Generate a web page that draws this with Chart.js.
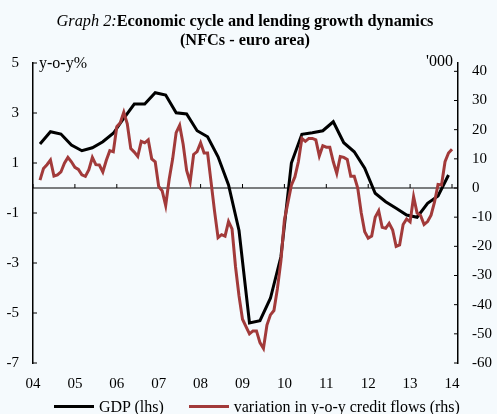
<!DOCTYPE html>
<html>
<head>
<meta charset="utf-8">
<script src="https://cdn.jsdelivr.net/npm/chart.js@4"></script>
<style>
  html, body { margin: 0; padding: 0; background: #f5fafd; }
  #wrap { position: relative; width: 497px; height: 414px; font-family: 'Liberation Serif', 'Times New Roman', serif; color: #000; }
  #chart { position: absolute; left: 0; top: 0; }
  .title { position: absolute; left: 0; top: 11px; width: 490px; text-align: center; font-size: 16.3px; line-height: 19px; font-weight: bold; }
  .title i { font-weight: normal; }
  .legend { position: absolute; left: 54px; top: 397px; display: flex; align-items: center; font-size: 16px; line-height: 19px; white-space: nowrap; }
  .legend .swatch { display: inline-block; width: 40px; height: 3px; margin-right: 5px; }
  .legend .item { display: flex; align-items: center; margin-right: 25px; }
</style>
</head>
<body>
<div id="wrap">
  <canvas id="chart" width="497" height="414"></canvas>
  <div class="title"><i>Graph 2:</i>Economic cycle and lending growth dynamics<br>(NFCs - euro area)</div>
  <div class="legend">
    <span class="item"><span class="swatch" style="background:#000"></span>GDP (lhs)</span>
    <span class="item"><span class="swatch" style="background:#a23a3a"></span>variation in y-o-y credit flows (rhs)</span>
  </div>
</div>
<script>
// x axis: years 2004-2014, data positioned by month (Jan 2004 = month 0)
const yearTicks = [2004, 2005, 2006, 2007, 2008, 2009, 2010, 2011, 2012, 2013, 2014];
const leftTicks = [-7, -5, -3, -1, 1, 3, 5];
const rightTicks = [-60, -50, -40, -30, -20, -10, 0, 10, 20, 30, 40];

// GDP y-o-y %, quarterly, Q1 2004 - Q4 2013 (plotted at quarter's last month)
const gdpStartMonth = 2;
const gdp = [
  1.76, 2.25, 2.16, 1.72, 1.49, 1.61, 1.85, 2.19, 2.79, 3.36,
  3.36, 3.81, 3.72, 3.01, 2.96, 2.29, 2.05, 1.25, 0.12, -1.7,
  -5.4, -5.31, -4.41, -2.75, 1.0, 2.15, 2.21, 2.29, 2.65, 1.81,
  1.45, 0.79, -0.21, -0.55, -0.81, -1.08, -1.17, -0.61, -0.32, 0.52
];

// variation in y-o-y credit flows ('000), monthly, Mar 2004 - Jan 2014
const creditStartMonth = 2;
const credit = [
  2.7, 6.7, 8.0, 9.6, 4.1, 4.5, 5.5, 8.5, 10.5, 9.0,
  7.1, 6.4, 4.5, 4.0, 6.3, 10.5, 8.0, 7.9, 5.5, 9.5,
  12.8, 12.4, 21, 22.4, 26, 22, 13.5, 12.3, 10.8, 16,
  15.5, 16.5, 10, 9, 0.5, -1.0, -6.0, 3, 10, 19,
  21.5, 15, 6, 2, 11.5, 12.5, 15.5, 12, 12, 2,
  -8, -17, -16, -16.5, -11.5, -14, -27, -37, -45, -47.5,
  -50, -49, -49, -53, -55, -47, -43.5, -42, -34.5, -25,
  -11, -5, 1, 3.8, 9, 17, 16, 17, 17, 16.5,
  11, 14.5, 14, 14, 9, 5, 10.8, 10.5, 9.8, 4,
  4, 0, -8.5, -15, -17.2, -16.5, -10, -7.8, -13.5, -13.8,
  -12.1, -14.4, -20, -19.5, -12.5, -10.6, -11.6, -3, -8.6, -9.4,
  -12.5, -11.5, -9.3, -4.8, 1.2, 1, 9, 12, 13.3
];

const monthToYear = (m) => 2004 + m / 12;
const gdpPoints = gdp.map((v, i) => ({ x: monthToYear(gdpStartMonth + 3 * i), y: v }));
const creditPoints = credit.map((v, i) => ({ x: monthToYear(creditStartMonth + i), y: v }));

const FONT = "'Liberation Serif', 'Times New Roman', serif";
Chart.defaults.color = '#000';
Chart.defaults.font.family = FONT;
Chart.defaults.font.size = 15;

// zero line, inward tick marks and unit labels
const axisExtras = {
  id: 'axisExtras',
  beforeDatasetsDraw(chart) {
    const { ctx, chartArea: a, scales } = chart;
    const yl = scales.yLeft, yr = scales.yRight, x = scales.x;
    const y0 = yl.getPixelForValue(0);
    ctx.save();
    ctx.strokeStyle = '#000';
    ctx.lineWidth = 1;
    ctx.beginPath();
    ctx.moveTo(a.left, y0);
    ctx.lineTo(a.right, y0);
    yearTicks.forEach(t => {
      const px = x.getPixelForValue(t);
      ctx.moveTo(px, y0);
      ctx.lineTo(px, y0 - 4);
    });
    leftTicks.forEach(t => {
      const py = yl.getPixelForValue(t);
      ctx.moveTo(a.left, py);
      ctx.lineTo(a.left + 4, py);
    });
    rightTicks.forEach(t => {
      const py = yr.getPixelForValue(t);
      ctx.moveTo(a.right, py);
      ctx.lineTo(a.right - 4, py);
    });
    ctx.stroke();

    ctx.fillStyle = '#000';
    ctx.font = '16px ' + FONT;
    ctx.textBaseline = 'middle';
    ctx.textAlign = 'left';
    ctx.fillText('y-o-y%', a.left + 6, a.top + 1);
    ctx.textAlign = 'right';
    ctx.fillText("'000", a.right - 5, a.top - 1);
    ctx.restore();
  }
};

new Chart(document.getElementById('chart').getContext('2d'), {
  type: 'line',
  data: {
    datasets: [
      {
        label: 'GDP (lhs)',
        data: gdpPoints,
        yAxisID: 'yLeft',
        borderColor: '#000',
        backgroundColor: '#000',
        borderWidth: 3,
        pointRadius: 0,
        tension: 0,
        order: 2
      },
      {
        label: 'variation in y-o-y credit flows (rhs)',
        data: creditPoints,
        yAxisID: 'yRight',
        borderColor: '#a23a3a',
        backgroundColor: '#a23a3a',
        borderWidth: 3,
        pointRadius: 0,
        tension: 0,
        order: 1
      }
    ]
  },
  options: {
    responsive: false,
    animation: false,
    layout: { padding: { top: 63, left: 6, right: 5, bottom: 21 } },
    plugins: {
      legend: { display: false },
      tooltip: { enabled: false }
    },
    scales: {
      x: {
        type: 'linear',
        min: 2004,
        max: 2014.143,
        afterBuildTicks: (axis) => { axis.ticks = yearTicks.map(v => ({ value: v })); },
        afterFit: (axis) => { axis.height = 30; },
        ticks: {
          padding: 12,
          maxRotation: 0,
          autoSkip: false,
          callback: (v) => String(v % 100).padStart(2, '0')
        },
        grid: { display: false, drawTicks: false },
        border: { display: false }
      },
      yLeft: {
        position: 'left',
        min: -7,
        max: 5,
        afterBuildTicks: (axis) => { axis.ticks = leftTicks.map(v => ({ value: v })); },
        afterFit: (axis) => { axis.width = 27; },
        ticks: { padding: 14, autoSkip: false },
        grid: { drawOnChartArea: false, drawTicks: false },
        border: { display: true, color: '#000', width: 1.5 }
      },
      yRight: {
        position: 'right',
        min: -60,
        max: 60 * 5 / 7,
        afterBuildTicks: (axis) => { axis.ticks = rightTicks.map(v => ({ value: v })); },
        afterFit: (axis) => { axis.width = 34; },
        ticks: { padding: 14, autoSkip: false },
        grid: { drawOnChartArea: false, drawTicks: false },
        border: { display: true, color: '#000', width: 1.5 }
      }
    }
  },
  plugins: [axisExtras]
});
</script>
</body>
</html>
